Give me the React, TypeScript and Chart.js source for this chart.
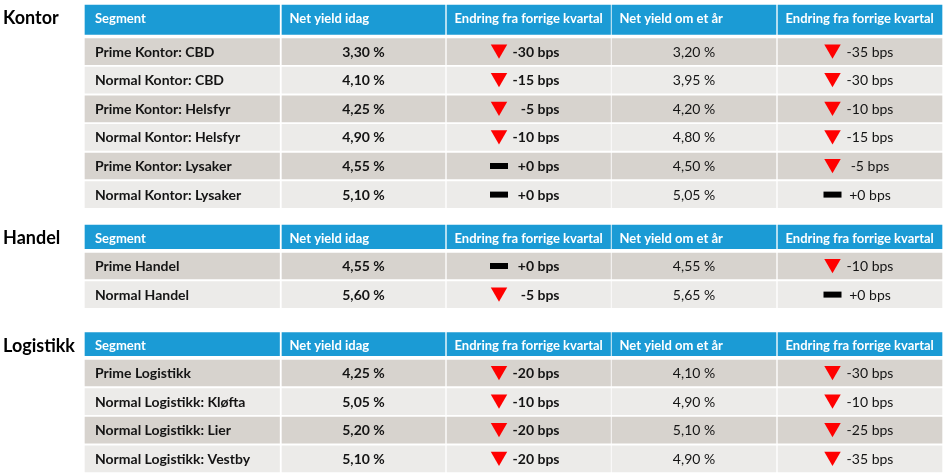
import { useEffect, useRef } from "react";
import { Chart, registerables } from "chart.js";

Chart.register(...registerables);

// ---------------- data ----------------
const sectionTitles = ["Kontor", "Handel", "Logistikk"];
const columnHeaders = [
  "Segment",
  "Net yield idag",
  "Endring fra forrige kvartal",
  "Net yield om et år",
  "Endring fra forrige kvartal",
];

const kontorSegments = [
  "Prime Kontor: CBD",
  "Normal Kontor: CBD",
  "Prime Kontor: Helsfyr",
  "Normal Kontor: Helsfyr",
  "Prime Kontor: Lysaker",
  "Normal Kontor: Lysaker",
];
const kontorYieldToday = [3.3, 4.1, 4.25, 4.9, 4.55, 5.1];
const kontorChangeToday = [-30, -15, -5, -10, 0, 0];
const kontorYieldYear = [3.2, 3.95, 4.2, 4.8, 4.5, 5.05];
const kontorChangeYear = [-35, -30, -10, -15, -5, 0];

const handelSegments = ["Prime Handel", "Normal Handel"];
const handelYieldToday = [4.55, 5.6];
const handelChangeToday = [0, -5];
const handelYieldYear = [4.55, 5.65];
const handelChangeYear = [-10, 0];

const logistikkSegments = [
  "Prime Logistikk",
  "Normal Logistikk: Kløfta",
  "Normal Logistikk: Lier",
  "Normal Logistikk: Vestby",
];
const logistikkYieldToday = [4.25, 5.05, 5.2, 5.1];
const logistikkChangeToday = [-20, -10, -20, -20];
const logistikkYieldYear = [4.1, 4.9, 5.1, 4.9];
const logistikkChangeYear = [-30, -10, -25, -35];

const tables = [
  {
    title: sectionTitles[0],
    segments: kontorSegments,
    yieldToday: kontorYieldToday,
    changeToday: kontorChangeToday,
    yieldYear: kontorYieldYear,
    changeYear: kontorChangeYear,
  },
  {
    title: sectionTitles[1],
    segments: handelSegments,
    yieldToday: handelYieldToday,
    changeToday: handelChangeToday,
    yieldYear: handelYieldYear,
    changeYear: handelChangeYear,
  },
  {
    title: sectionTitles[2],
    segments: logistikkSegments,
    yieldToday: logistikkYieldToday,
    changeToday: logistikkChangeToday,
    yieldYear: logistikkYieldYear,
    changeYear: logistikkChangeYear,
  },
];

// ---------------- layout (scale units) ----------------
const W = 945;
const H = 474;
const COL_START = [85, 282, 447, 612, 778];
const COL_END = [279.5, 445, 610.5, 776, 942];
const HEADER_TOP = [5, 225, 332.7];
const HEADER_H = [29.3, 23.7, 23];
const FIRST_ROW_GAP = 4.3;
const ROW_H = 26;
const ROW_PITCH = 28.6;
const MARKER_X_TODAY = 499;
const MARKER_X_YEAR = 832.5;
const TRI_R = 9.5;

const BLUE = "#1b9bd5";
const DARK = "#d7d3ce";
const LIGHT = "#ecebe9";
const TEXT = "#141414";
const FONT = "Lato, 'Open Sans', sans-serif";

const headerCenter = (s: number) => HEADER_TOP[s] + HEADER_H[s] / 2;
const rowCenter = (s: number, i: number) =>
  HEADER_TOP[s] + HEADER_H[s] + FIRST_ROW_GAP + i * ROW_PITCH + ROW_H / 2;
const colCenter = (c: number) => (COL_START[c] + COL_END[c]) / 2;

const fmtPct = (v: number) => v.toFixed(2).replace(".", ",") + " %";
const fmtBps = (v: number) => (v >= 0 ? "+" : "") + v + " bps";

function drawText(
  ctx: CanvasRenderingContext2D,
  text: string,
  x: number,
  cy: number,
  font: string,
  color: string,
  align: CanvasTextAlign
) {
  ctx.font = font;
  ctx.fillStyle = color;
  ctx.textAlign = align;
  ctx.textBaseline = "alphabetic";
  const asc = ctx.measureText("H").actualBoundingBoxAscent || 10;
  ctx.fillText(text, x, cy + asc / 2);
}

const textPlugin = {
  id: "tableText",
  afterDatasetsDraw(chart: any) {
    const { ctx } = chart;
    const xs = chart.scales.x;
    const ys = chart.scales.y;
    const px = (v: number) => xs.getPixelForValue(v);
    const py = (v: number) => ys.getPixelForValue(v);
    ctx.save();
    tables.forEach((t, s) => {
      drawText(ctx, t.title, px(3), py(HEADER_TOP[s] + 11.8), `bold 18px ${FONT}`, "#000", "left");
      const hc = HEADER_TOP[s] + 12.5;
      columnHeaders.forEach((h, c) => {
        drawText(
          ctx,
          h,
          px(COL_START[c] + (c === 0 ? 10 : 7.5)),
          py(hc),
          `bold 13px ${FONT}`,
          "#ffffff",
          "left"
        );
      });
      t.segments.forEach((seg, i) => {
        const cy = py(rowCenter(s, i));
        drawText(ctx, seg, px(COL_START[0] + 10), cy, `bold 14px ${FONT}`, TEXT, "left");
        drawText(ctx, fmtPct(t.yieldToday[i]), px(colCenter(1)), cy, `bold 14px ${FONT}`, TEXT, "center");
        drawText(ctx, fmtBps(t.changeToday[i]), px(559.5), cy, `bold 14px ${FONT}`, TEXT, "right");
        drawText(ctx, fmtPct(t.yieldYear[i]), px(colCenter(3)), cy, `14px ${FONT}`, TEXT, "center");
        drawText(ctx, fmtBps(t.changeYear[i]), px(870), cy, `14px ${FONT}`, TEXT, "center");
      });
    });
    ctx.restore();
  },
};

function buildDatasets() {
  const datasets: any[] = [];
  // header cells, one dataset per section (header heights differ)
  tables.forEach((_t, s) => {
    datasets.push({
      type: "bar",
      label: "header" + s,
      data: COL_START.map((x0, c) => ({ x: [x0, COL_END[c]], y: headerCenter(s) })),
      backgroundColor: BLUE,
      barThickness: HEADER_H[s],
      grouped: false,
      borderWidth: 0,
      order: 5,
    });
  });
  const dark: any[] = [];
  const light: any[] = [];
  const triangles: any[] = [];
  const dashes: any[] = [];
  tables.forEach((t, s) => {
    t.segments.forEach((_seg, i) => {
      const cy = rowCenter(s, i);
      COL_START.forEach((x0, c) => {
        (i % 2 === 0 ? dark : light).push({ x: [x0, COL_END[c]], y: cy });
      });
      [
        [t.changeToday[i], MARKER_X_TODAY],
        [t.changeYear[i], MARKER_X_YEAR],
      ].forEach(([v, mx]) => {
        if (v < 0) triangles.push({ x: mx, y: cy - TRI_R * 0.25 });
        else dashes.push({ x: mx, y: cy });
      });
    });
  });
  datasets.push({
    type: "bar",
    label: "rows dark",
    data: dark,
    backgroundColor: DARK,
    barThickness: ROW_H,
    grouped: false,
    borderWidth: 0,
    order: 5,
  });
  datasets.push({
    type: "bar",
    label: "rows light",
    data: light,
    backgroundColor: LIGHT,
    barThickness: ROW_H,
    grouped: false,
    borderWidth: 0,
    order: 5,
  });
  datasets.push({
    type: "scatter",
    label: "decrease",
    data: triangles,
    pointStyle: "triangle",
    pointRotation: 180,
    pointRadius: TRI_R,
    pointBackgroundColor: "#ff0000",
    pointBorderColor: "#ff0000",
    pointBorderWidth: 0,
    showLine: false,
    clip: false,
    order: 1,
  });
  datasets.push({
    type: "scatter",
    label: "unchanged",
    data: dashes,
    pointStyle: "line",
    pointRadius: 9,
    pointBorderColor: "#000000",
    pointBackgroundColor: "#000000",
    pointBorderWidth: 6,
    showLine: false,
    clip: false,
    order: 1,
  });
  return datasets;
}

export default function App() {
  const ref = useRef<HTMLCanvasElement>(null);
  useEffect(() => {
    document.body.style.margin = "0";
    const canvas = ref.current;
    if (!canvas) return;
    const chart = new Chart(canvas, {
      type: "bar",
      data: { datasets: buildDatasets() },
      options: {
        indexAxis: "y",
        animation: false,
        responsive: true,
        maintainAspectRatio: false,
        events: [],
        layout: { padding: 0, autoPadding: false },
        plugins: { legend: { display: false }, tooltip: { enabled: false } },
        scales: {
          x: { type: "linear", min: 0, max: W, display: false, offset: false, grace: 0 },
          y: { type: "linear", min: 0, max: H, reverse: true, display: false, offset: false, grace: 0 },
        },
      } as any,
      plugins: [textPlugin],
    } as any);
    const fonts: any = (document as any).fonts;
    if (fonts && fonts.load) {
      Promise.all([fonts.load(`bold 14px Lato`), fonts.load(`14px Lato`)])
        .then(() => chart.draw())
        .catch(() => {});
    }
    return () => chart.destroy();
  }, []);
  return (
    <div style={{ position: "relative", width: W, height: H, background: "#fff" }}>
      <canvas ref={ref} />
    </div>
  );
}
